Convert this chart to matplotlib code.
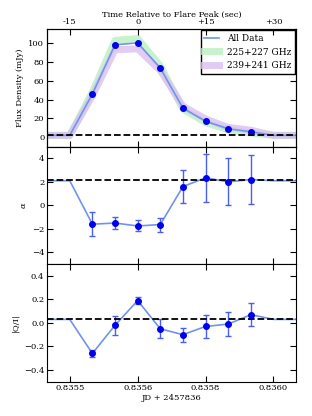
import matplotlib

matplotlib.use("Agg")
import matplotlib.pyplot as plt
import numpy as np

# time of flare peak (fraction of JD 2457836)
t0 = 0.835632

# seconds relative to peak; the line arrays include the flat baseline ends
t_line = [-20, -15, -10, -5, 0, 5, 10, 15, 20, 25, 30, 35]
t_pts = [-10, -5, 0, 5, 10, 15, 20, 25]

flux_all = [2, 2, 46, 98.3, 100.4, 73.6, 31, 17, 9, 5.8, 2, 2]
flux_lo = [2, 2, 48, 103, 105, 76, 30, 15.5, 8, 4.5, 2, 2]   # 225+227 GHz
flux_hi = [2, 2, 44, 93, 94, 71, 33, 19.5, 10.5, 7.5, 2, 2]  # 239+241 GHz
flux_base = 2

alpha_line = [2.1, 2.1, -1.6, -1.5, -1.75, -1.63, 1.6, 2.35, 2.0, 2.2, 2.1, 2.1]
alpha_err = [1.0, 0.5, 0.47, 0.6, 1.42, 2.05, 2.0, 2.05]
alpha_base = 2.14

qi_line = [0.03, 0.03, -0.26, -0.02, 0.19, -0.05, -0.10, -0.03, -0.01, 0.07, 0.03, 0.03]
qi_err = [0.03, 0.08, 0.03, 0.08, 0.06, 0.10, 0.10, 0.10]
qi_base = 0.03

top_ticks = [-15, 0, 15, 30]
top_labels = ["-15", "0", "+15", "+30"]

plt.rcParams["font.family"] = "DejaVu Serif"
plt.rcParams["font.size"] = 6
plt.rcParams["mathtext.fontset"] = "dejavuserif"

def jd(sec):
    return t0 + np.asarray(sec, dtype=float) / 86400.0

x_line = jd(t_line)
x_pts = jd(t_pts)
xlim = (jd(-20), jd(35))

fig = plt.figure(figsize=(3.12, 4.16), dpi=100)
left, width, h = 0.151, 0.798, 0.2825
ax1 = fig.add_axes([left, 0.6475, width, h])
ax2 = fig.add_axes([left, 0.365, width, h], sharex=ax1)
ax3 = fig.add_axes([left, 0.0825, width, h], sharex=ax1)

line_c = "#6f94ee"
pt_c = "#0000ee"

# flux panel
ax1.plot(x_line, flux_lo, color="#b8f0c0", lw=5, alpha=0.8, label="225+227 GHz")
ax1.plot(x_line, flux_hi, color="#dcc0f0", lw=5, alpha=0.8, label="239+241 GHz")
ax1.plot(x_line, flux_all, color=line_c, lw=1.2, label="All Data")
ax1.plot(x_pts, flux_all[2:10], "o", color=pt_c, ms=4)
ax1.axhline(flux_base, color="k", ls="--", lw=1.3)
ax1.set_ylim(-10, 115)
ax1.set_yticks([0, 20, 40, 60, 80, 100])
ax1.set_ylabel("Flux Density (mJy)", labelpad=3)
handles, labels = ax1.get_legend_handles_labels()
leg = ax1.legend([handles[2], handles[0], handles[1]], [labels[2], labels[0], labels[1]],
                 loc="upper right", fontsize=6.5, fancybox=False, framealpha=1,
                 borderaxespad=0.15, handlelength=1.6, handletextpad=0.9)
leg.get_frame().set_edgecolor("k")

# spectral index panel
ax2.plot(x_line, alpha_line, color=line_c, lw=1.2)
ax2.errorbar(x_pts, alpha_line[2:10], yerr=alpha_err, fmt="o", color=pt_c, ms=4,
             ecolor="#4a5ef0", elinewidth=1, capsize=2)
ax2.axhline(alpha_base, color="k", ls="--", lw=1.3)
ax2.set_ylim(-5, 5)
ax2.set_yticks([-4, -2, 0, 2, 4])
ax2.set_ylabel(r"$\alpha$", labelpad=3)

# polarization panel
ax3.plot(x_line, qi_line, color=line_c, lw=1.2)
ax3.errorbar(x_pts, qi_line[2:10], yerr=qi_err, fmt="o", color=pt_c, ms=4,
             ecolor="#4a5ef0", elinewidth=1, capsize=2)
ax3.axhline(qi_base, color="k", ls="--", lw=1.3)
ax3.set_ylim(-0.5, 0.5)
ax3.set_yticks([-0.4, -0.2, 0.0, 0.2, 0.4])
ax3.set_ylabel("|Q/I|", labelpad=3)
ax3.set_xlabel("JD + 2457836", labelpad=1)

ax3.set_xlim(*xlim)
ax3.set_xticks(jd(top_ticks))
ax3.set_xticklabels([f"{v:.4f}" for v in jd(top_ticks)])

for ax in (ax1, ax2, ax3):
    ax.tick_params(direction="in", top=True, right=True, length=4, labelsize=6, pad=2)
for ax in (ax1, ax2):
    ax.tick_params(labelbottom=False)

top = ax1.twiny()
top.set_xlim(-20, 35)
top.set_xticks(top_ticks)
top.set_xticklabels(top_labels)
top.tick_params(direction="in", length=4, labelsize=6, pad=2)
top.set_xlabel("Time Relative to Flare Peak (sec)", labelpad=1)

fig.savefig("out.png", dpi=100)
